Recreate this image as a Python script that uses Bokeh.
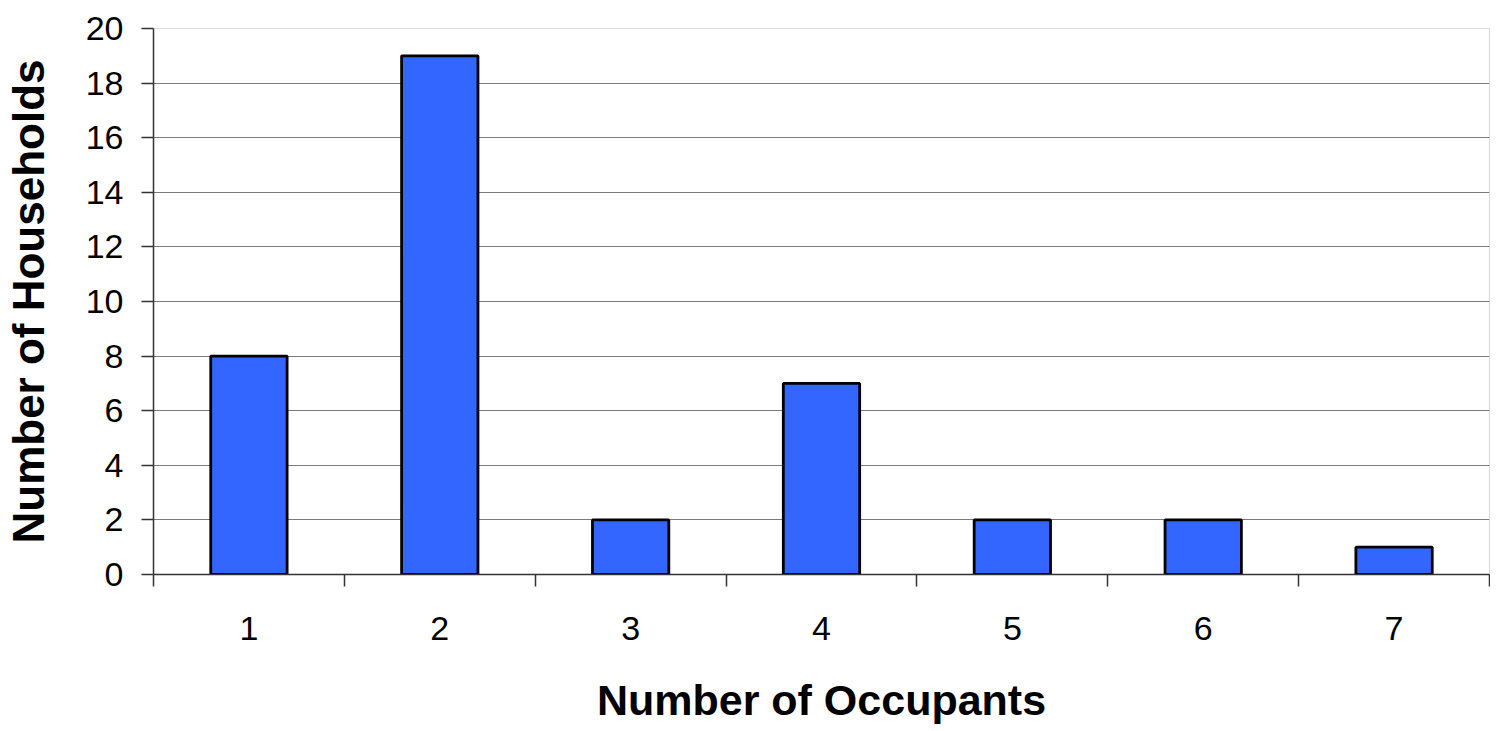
from bokeh.plotting import figure
from bokeh.models import FixedTicker, Range1d, ColumnDataSource
from bokeh.embed import file_html
from bokeh.resources import INLINE

occupants = [1, 2, 3, 4, 5, 6, 7]
households = [8, 19, 2, 7, 2, 2, 1]
y_ticks = [0, 2, 4, 6, 8, 10, 12, 14, 16, 18, 20]
x_boundaries = [0.5, 1.5, 2.5, 3.5, 4.5, 5.5, 6.5, 7.5]

src = ColumnDataSource(data=dict(x=occupants, top=households))

p = figure(width=1490, height=726, output_backend="svg", toolbar_location=None,
           x_range=Range1d(0.5, 7.5), y_range=Range1d(0, 20),
           min_border_left=145, min_border_right=1, min_border_top=28, min_border_bottom=151)

p.vbar(x="x", top="top", width=0.4, bottom=0, source=src,
       fill_color="#3366FF", line_color="black", line_width=2.8)

FONT = "Liberation Sans"

p.xaxis.ticker = FixedTicker(ticks=occupants, minor_ticks=x_boundaries)
p.yaxis.ticker = FixedTicker(ticks=y_ticks, minor_ticks=[])

for ax in (p.xaxis, p.yaxis):
    ax.major_label_text_font = FONT
    ax.major_label_text_font_size = "34px"
    ax.major_label_text_color = "black"
    ax.axis_label_text_font = FONT
    ax.axis_label_text_font_size = "44px"
    ax.axis_label_text_font_style = "bold"
    ax.axis_label_text_color = "black"
    ax.axis_line_color = "#333333"
    ax.axis_line_width = 1.5
    ax.major_tick_line_color = "#333333"
    ax.minor_tick_line_color = "#333333"
    ax.major_tick_line_width = 1.5
    ax.minor_tick_line_width = 1.5
    ax.major_tick_in = 0
    ax.minor_tick_in = 0

p.xaxis.axis_label = "Number of Occupants"
p.yaxis.axis_label = "Number of Households"
p.xaxis.axis_label_text_font_size = "43px"

p.xaxis.major_tick_out = 0
p.xaxis.minor_tick_out = 12
p.xaxis.major_label_standoff = 30
p.xaxis.axis_label_standoff = 33

p.yaxis.major_tick_out = 12
p.yaxis.minor_tick_out = 0
p.yaxis.major_label_standoff = 18
p.yaxis.axis_label_standoff = 30

p.xgrid.visible = False
p.ygrid.grid_line_color = "#7a7a7a"
p.ygrid.grid_line_width = 1.2

p.outline_line_color = "#d9d9d9"
p.outline_line_width = 1
p.background_fill_color = "white"
p.border_fill_color = "white"

open("out.html", "w").write(file_html(p, INLINE))
